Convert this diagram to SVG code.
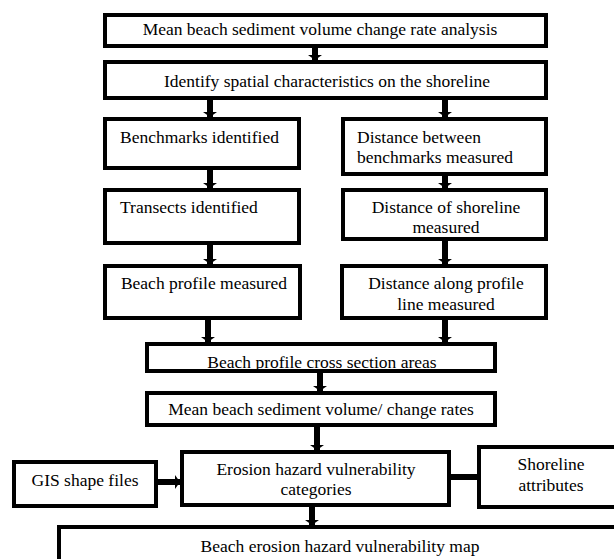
<svg xmlns="http://www.w3.org/2000/svg" width="614" height="559" viewBox="0 0 614 559">
<style>
.box{fill:#fff;stroke:#000;stroke-width:4}
.ob{fill:none;stroke:#000;stroke-width:4}
.t{font-family:"Liberation Serif","Times New Roman",serif;font-size:17.5px;fill:#000}
.c{text-anchor:middle}
.ln{stroke:#000;stroke-width:6;fill:none}
</style>
<defs>
<marker id="ah" viewBox="0 0 5 14" refX="5" refY="7" markerWidth="5" markerHeight="14" markerUnits="userSpaceOnUse" orient="auto">
<path d="M0,0 L5,7 L0,14 z" fill="#000"/>
</marker>
</defs>
<rect width="614" height="559" fill="#fff"/>
<g id="n1"><rect class="box" x="105" y="15" width="441" height="31"/><text class="t c" x="320" y="35">Mean beach sediment volume change rate analysis</text></g>
<g id="n2"><rect class="box" x="105" y="62" width="441" height="36"/><text class="t c" x="327" y="87">Identify spatial characteristics on the shoreline</text></g>
<g id="n3"><rect class="box" x="105" y="119" width="194" height="49"/><text class="t" x="120" y="143">Benchmarks identified</text></g>
<g id="n4"><rect class="box" x="343" y="119" width="203" height="55"/><text class="t" x="357" y="143">Distance between</text><text class="t" x="357" y="163">benchmarks measured</text></g>
<g id="n5"><rect class="box" x="105" y="190" width="194" height="53"/><text class="t" x="120" y="213">Transects identified</text></g>
<g id="n6"><rect class="box" x="343" y="190" width="203" height="49"/><text class="t c" x="446" y="213">Distance of shoreline</text><text class="t c" x="446" y="233">measured</text></g>
<g id="n7"><rect class="box" x="105" y="266" width="195" height="52"/><text class="t c" x="204" y="289">Beach profile measured</text></g>
<g id="n8"><rect class="box" x="342" y="266" width="204" height="52"/><text class="t c" x="446" y="289">Distance along profile</text><text class="t c" x="446" y="310">line measured</text></g>
<g id="n9"><rect fill="#fff" x="147" y="344" width="348" height="27"/><text class="t c" x="322" y="367.5">Beach profile cross section areas</text><rect class="ob" x="147" y="344" width="348" height="27"/></g>
<g id="n10"><rect class="box" x="147" y="393" width="348" height="32"/><text class="t c" x="321" y="415">Mean beach sediment volume/ change rates</text></g>
<g id="n11"><rect class="box" x="182" y="452" width="267" height="53"/><text class="t c" x="316" y="475">Erosion hazard vulnerability</text><text class="t c" x="316" y="495">categories</text></g>
<g id="n12"><rect class="box" x="14" y="462" width="142" height="44"/><text class="t c" x="85" y="486">GIS shape files</text></g>
<g id="n13"><rect class="box" x="479" y="447" width="180" height="60"/><text class="t c" x="551" y="470">Shoreline</text><text class="t c" x="551" y="491">attributes</text></g>
<g id="n14"><rect class="box" x="59" y="527" width="700" height="80"/><text class="t c" x="340" y="552">Beach erosion hazard vulnerability map</text></g>
<g id="connectors">
<line class="ln" x1="315" y1="48" x2="315" y2="60" marker-end="url(#ah)"/>
<line class="ln" x1="210" y1="100" x2="210" y2="117" marker-end="url(#ah)"/>
<line class="ln" x1="445" y1="100" x2="445" y2="117" marker-end="url(#ah)"/>
<line class="ln" x1="210" y1="170" x2="210" y2="188" marker-end="url(#ah)"/>
<line class="ln" x1="445" y1="176" x2="445" y2="188" marker-end="url(#ah)"/>
<line class="ln" x1="210" y1="245" x2="210" y2="264" marker-end="url(#ah)"/>
<line class="ln" x1="445" y1="241" x2="445" y2="264" marker-end="url(#ah)"/>
<line class="ln" x1="208" y1="320" x2="208" y2="342" marker-end="url(#ah)"/>
<line class="ln" x1="445" y1="320" x2="445" y2="342" marker-end="url(#ah)"/>
<line class="ln" x1="320" y1="373" x2="320" y2="391" marker-end="url(#ah)"/>
<line class="ln" x1="317" y1="427" x2="317" y2="450" marker-end="url(#ah)"/>
<line class="ln" x1="312" y1="507" x2="312" y2="525" marker-end="url(#ah)"/>
<line class="ln" x1="158" y1="482" x2="180" y2="482" marker-end="url(#ah)"/>
<line class="ln" x1="451" y1="477" x2="477" y2="477"/>
</g>
</svg>
